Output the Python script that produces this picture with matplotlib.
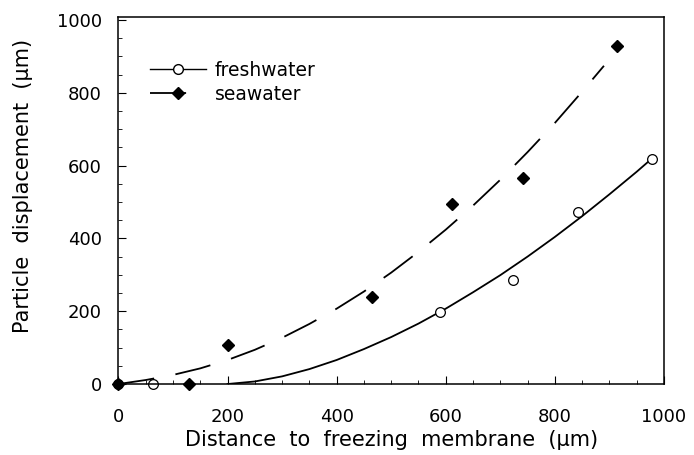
import numpy as np
import matplotlib.pyplot as plt
from matplotlib.ticker import MultipleLocator

# measured points (um)
fresh_x = [0, 64, 590, 724, 843, 978]
fresh_y = [0, 0, 199, 286, 473, 617]
sea_x = [0, 129, 200, 464, 611, 742, 914]
sea_y = [0, 0, 107, 240, 494, 565, 929]

# fitted curves
fresh_fit_x = [200, 250, 300, 350, 400, 450, 500, 550, 600, 650, 700, 750, 800, 850, 900, 950, 980]
fresh_fit_y = [0, 7, 21, 41, 66, 96, 129, 166, 207, 252, 299, 350, 404, 461, 521, 583, 622]
sea_fit_x = [0, 50, 100, 150, 200, 250, 300, 350, 400, 450, 500, 550, 600, 650, 700, 750, 800, 850, 890]
sea_fit_y = [0, 11, 25, 43, 66, 94, 127, 165, 207, 254, 306, 363, 424, 490, 561, 637, 717, 803, 874]

plt.rcParams['font.family'] = ['DejaVu Sans']

fig = plt.figure(figsize=(6.94, 4.55), dpi=100)
ax = fig.add_axes([0.1707, 0.156, 0.786, 0.8066])

ax.plot(fresh_fit_x, fresh_fit_y, color='black', lw=1.3)
ax.plot(sea_fit_x, sea_fit_y, color='black', lw=1.3, dashes=(20, 12))
ax.plot(fresh_x, fresh_y, 'o', mfc='white', mec='black', ms=7, mew=0.9, clip_on=False)
ax.plot(sea_x, sea_y, 'D', color='black', ms=6, clip_on=False)

# legend handles
h1, = ax.plot([], [], color='black', lw=1, marker='o', mfc='white', mec='black', ms=7)
h2, = ax.plot([], [], color='black', lw=1.3, dashes=(20, 12), marker='D', ms=6)
ax.legend([h1, h2], ['freshwater', 'seawater'], loc='upper left',
          bbox_to_anchor=(0.058, 0.88), frameon=False, borderpad=0,
          borderaxespad=0, handlelength=3.0, handletextpad=0.45,
          labelspacing=0.25, fontsize=13.5)

ax.set_xlim(0, 1000)
ax.set_ylim(0, 1008)
ax.xaxis.set_major_locator(MultipleLocator(200))
ax.xaxis.set_minor_locator(MultipleLocator(50))
ax.yaxis.set_major_locator(MultipleLocator(200))
ax.yaxis.set_minor_locator(MultipleLocator(50))
ax.tick_params(which='both', direction='in', labelsize=13)
ax.tick_params(which='major', length=6, width=0.8)
ax.tick_params(which='minor', length=3, width=0.6)
ax.tick_params(axis='x', pad=17)
ax.tick_params(axis='y', pad=12)
for s in ax.spines.values():
    s.set_linewidth(1.1)

ax.set_xlabel('Distance  to  freezing  membrane  (\u00b5m)', fontsize=15, labelpad=3)
ax.set_ylabel('Particle  displacement  (\u00b5m)', fontsize=15)
ax.yaxis.set_label_coords(-0.157, 0.54)

fig.savefig('out.png', dpi=100)
